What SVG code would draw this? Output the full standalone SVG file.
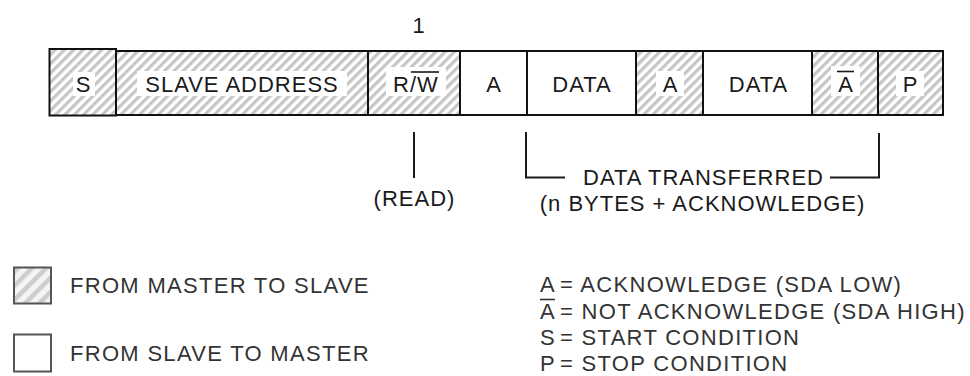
<svg xmlns="http://www.w3.org/2000/svg" width="970" height="376" viewBox="0 0 970 376">
<defs>
<pattern id="hatch" patternUnits="userSpaceOnUse" width="6.6" height="6.6" patternTransform="rotate(45)">
<rect width="6.6" height="6.6" fill="#fff"/>
<rect width="3.2" height="6.6" fill="#c6c6c6"/>
</pattern>
<pattern id="hatch2" patternUnits="userSpaceOnUse" width="10" height="10" patternTransform="rotate(45)">
<rect width="10" height="10" fill="#f4f4f4"/>
<rect width="4.5" height="10" fill="#cdcdcd"/>
</pattern>
</defs>
<style>
.t { font-family: "Liberation Sans", Arial, sans-serif; font-size: 22px; letter-spacing: 1px; fill: #1a1a1a; }
.m { text-anchor: middle; }
.lg { fill: #333; letter-spacing: 1.3px; }
.cell { stroke: #111; stroke-width: 2; }
.h { fill: url(#hatch); }
.w { fill: #fff; }
.bg { fill: #fff; stroke: none; }
.conn { stroke: #1a1a1a; stroke-width: 2; fill: none; }
.ov { stroke: #1a1a1a; stroke-width: 1.6; }
</style>
<rect width="970" height="376" fill="#fff"/>

<text class="t m" x="419" y="33">1</text>

<g id="cell-s">
<rect class="cell h" x="49.5" y="49" width="66.5" height="66.5"/>
<rect class="bg" x="73" y="72" width="22" height="24"/>
<text class="t m" x="83.5" y="92">S</text>
</g>
<g id="cell-slave-address">
<rect class="cell h" x="116" y="51" width="252" height="64"/>
<rect class="bg" x="137" y="71" width="210" height="25"/>
<text class="t m" x="242" y="92">SLAVE ADDRESS</text>
</g>
<g id="cell-rw">
<rect class="cell h" x="368" y="51" width="92" height="64"/>
<rect class="bg" x="386" y="67" width="60" height="29"/>
<text class="t m" x="416" y="92">R/W</text>
<line class="ov" x1="411" y1="72" x2="439" y2="72"/>
</g>
<g id="cell-ack1">
<rect class="cell w" x="460" y="51" width="67" height="64"/>
<text class="t m" x="494" y="92">A</text>
</g>
<g id="cell-data1">
<rect class="cell w" x="527" y="51" width="109" height="64"/>
<text class="t m" x="582" y="92">DATA</text>
</g>
<g id="cell-ack2">
<rect class="cell h" x="636" y="51" width="67" height="64"/>
<rect class="bg" x="656" y="71" width="28" height="25"/>
<text class="t m" x="670.5" y="92">A</text>
</g>
<g id="cell-data2">
<rect class="cell w" x="703" y="51" width="109" height="64"/>
<text class="t m" x="758.5" y="92">DATA</text>
</g>
<g id="cell-nack">
<rect class="cell h" x="812" y="51" width="66" height="64"/>
<rect class="bg" x="831" y="66" width="29" height="30"/>
<text class="t m" x="846" y="92">A</text>
<line class="ov" x1="837" y1="71.5" x2="854" y2="71.5"/>
</g>
<g id="cell-p">
<rect class="cell h" x="878" y="51" width="65" height="64"/>
<rect class="bg" x="896" y="71" width="28" height="25"/>
<text class="t m" x="910.5" y="92">P</text>
</g>

<g id="connectors">
<line class="conn" x1="414" y1="132" x2="414" y2="178"/>
<polyline class="conn" points="565,177.5 526,177.5 526,132"/>
<polyline class="conn" points="830,177.5 879,177.5 879,133"/>
</g>

<g id="labels">
<text class="t m" x="414.5" y="206">(READ)</text>
<text class="t m" x="703.5" y="185">DATA TRANSFERRED</text>
<text class="t m" x="702.5" y="211">(n BYTES + ACKNOWLEDGE)</text>
</g>

<g id="legend-master">
<rect x="14" y="267.5" width="37" height="36" fill="url(#hatch2)" stroke="#555" stroke-width="2"/>
<text class="t lg" x="70" y="293">FROM MASTER TO SLAVE</text>
</g>
<g id="legend-slave">
<rect x="14" y="334.5" width="37" height="37" fill="#fff" stroke="#555" stroke-width="2"/>
<text class="t lg" x="70" y="361">FROM SLAVE TO MASTER</text>
</g>

<g id="legend-abbrev">
<text class="t lg" x="540" y="292">A</text>
<text class="t lg" x="560" y="292">= ACKNOWLEDGE (SDA LOW)</text>
<text class="t lg" x="540" y="318.5">A</text>
<line x1="540" y1="299.5" x2="555" y2="299.5" stroke="#333" stroke-width="1.6"/>
<text class="t lg" x="560" y="318.5">= NOT ACKNOWLEDGE (SDA HIGH)</text>
<text class="t lg" x="540" y="345">S</text>
<text class="t lg" x="560" y="345">= START CONDITION</text>
<text class="t lg" x="540" y="371">P</text>
<text class="t lg" x="560" y="371">= STOP CONDITION</text>
</g>
</svg>
